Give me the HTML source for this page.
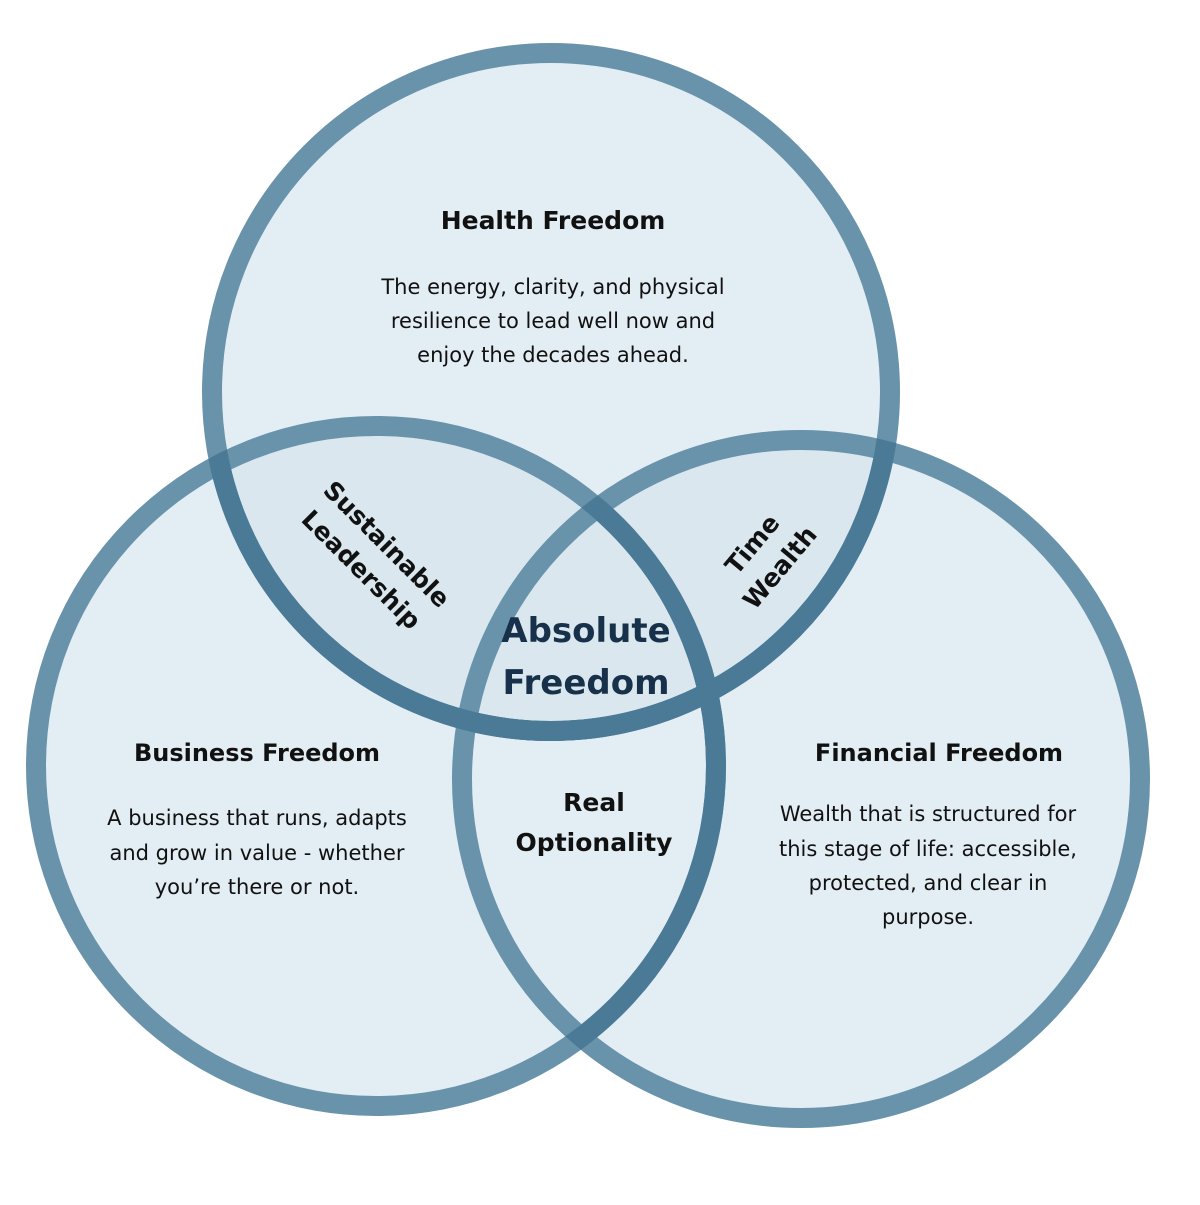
<!DOCTYPE html>
<html><head><meta charset="utf-8"><style>
html,body{margin:0;padding:0;background:#fff}
svg text{font-family:"DejaVu Sans","Liberation Sans",sans-serif}
</style></head><body>
<svg width="1200" height="1200" viewBox="0 0 1200 1200" xmlns="http://www.w3.org/2000/svg">
<defs>
<clipPath id="cT"><circle cx="551" cy="392" r="349"/></clipPath>
<clipPath id="cL"><circle cx="376" cy="766" r="350"/></clipPath>
<clipPath id="cR"><circle cx="801" cy="779" r="349"/></clipPath>
</defs>
<circle cx="551" cy="392" r="339" fill="#e3edf4"/>
<circle cx="376" cy="766" r="340" fill="#e3edf4"/>
<circle cx="801" cy="779" r="339" fill="#e3edf4"/>
<g clip-path="url(#cT)"><circle cx="376" cy="766" r="340" fill="#dae7ef"/><circle cx="801" cy="779" r="339" fill="#dae7ef"/></g>
<g fill="none" stroke-width="20">
<circle cx="551" cy="392" r="339" stroke="#6893ab"/>
<circle cx="376" cy="766" r="340" stroke="#6893ab"/>
<circle cx="801" cy="779" r="339" stroke="#6893ab"/>
<g stroke="#4a7a96">
<g clip-path="url(#cL)"><circle cx="551" cy="392" r="339"/></g>
<g clip-path="url(#cR)"><circle cx="551" cy="392" r="339"/><circle cx="376" cy="766" r="340"/></g>
</g>
</g>
<g fill="#111" text-anchor="middle">
<text x="553" y="229" font-size="25" font-weight="bold">Health Freedom</text>
<text x="553" y="294" font-size="21">The energy, clarity, and physical</text>
<text x="553" y="328" font-size="21">resilience to lead well now and</text>
<text x="553" y="362" font-size="21">enjoy the decades ahead.</text>
<text x="257" y="761" font-size="24" font-weight="bold">Business Freedom</text>
<text x="257" y="825" font-size="21">A business that runs, adapts</text>
<text x="257" y="860" font-size="21">and grow in value - whether</text>
<text x="257" y="894" font-size="21">you’re there or not.</text>
<text x="939" y="761" font-size="24" font-weight="bold">Financial Freedom</text>
<text x="928" y="821" font-size="21">Wealth that is structured for</text>
<text x="928" y="856" font-size="21">this stage of life: accessible,</text>
<text x="928" y="890" font-size="21">protected, and clear in</text>
<text x="928" y="924" font-size="21">purpose.</text>
<text x="594" y="811" font-size="25" font-weight="bold">Real</text>
<text x="594" y="851" font-size="25" font-weight="bold">Optionality</text>
<g transform="translate(375,556) rotate(45)" font-size="25" font-weight="bold"><text y="-8">Sustainable</text><text y="28">Leadership</text></g>
<g transform="translate(765,555) rotate(-50)" font-size="25" font-weight="bold"><text y="-8">Time</text><text y="28">Wealth</text></g>
<text x="586" y="642" font-size="34" font-weight="bold" fill="#17314a">Absolute</text>
<text x="586" y="694" font-size="34" font-weight="bold" fill="#17314a">Freedom</text>
</g>
</svg>
</body></html>
